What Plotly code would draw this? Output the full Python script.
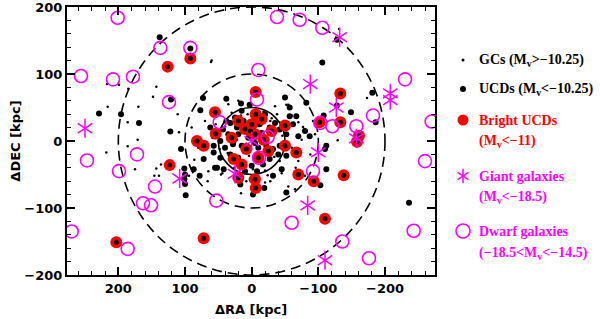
import plotly.graph_objects as go

# ---------------- data (kpc) ----------------
# Dwarf galaxies (-18.5 < Mv < -14.5)
dw_x = [201, 256, 208, 178, 137, 124, 92, 247, 199, 172, 145, 163, 151, 270, 186,
        -38, -72, -106, -10, -8, 48, -24, -11, 53, -60, -103, -121, -157, -182,
        -230, -270, -260, -92, -243, -136, -176]
dw_y = [184, 97, 92, 96, 139, 58, 139, -29, -45, -20, -68, -93, -96, -135, -161,
        185, 181, 169, 106, 62, 28, 6, -25, -89, -122, 27, 22, 22, 38,
        92, 29, -30, -45, -134, -150, -175]

# Giant galaxies (Mv < -18.5)
gi_x = [0, 250, 108, 25, -132, -88, -127, -208, -208, -157, -100, -84, -110]
gi_y = [0, 19, -56, -49, 155, 85, 50, 71, 61, 4, -17, -96, -178]

# Bright UCDs (Mv < -11)
bu_x = [126, 92, 123, 203, 82, 72, -6, 55, -6, -15, -50, 54, -18, -50, -67, 27, 15,
        20, -5, -6, -70, -93, -102, -133, -133, -161, -158, -138, -110, 72,
        0, 10, -30, -5, 8, -25, -10, 30, 20, 2]
bu_y = [111, 123, -36, -151, 0, -7, 73, 43, 40, 33, 23, 11, 2, -7, -17, -27, -35,
        -55, -57, -70, -50, -60, 28, 71, 28, 8, -1, -51, -116, -145,
        25, 18, 15, 10, -12, -15, -25, 5, 30, 15]

# UCDs (Mv < -10.25)
ucd_x = [138, 92, 229, 196, 169, 122, 121, 106, 101, 87, 100, 101, 100, 99, 73, 38,
         -50, 3, 77, -106, -181, -149, -108, -186, -110, -103, -236, -128, -128,
         -52, 78, -2, -19, 17, -32, -45, 55, 42, 10, 0, 72, 62, 57, -82, -112,
         -112, -57, 16,
         15, 32, 22, 43, 35, 20, 10, -12, -27, -35, -42, -52, -62, -70, -80, -87,
         -67, -57, 47, 57, 40, 27, 15, 7, -10, -22, -32, -42, -40, -52, -27, -17,
         0, 20, 32, 47, 57, 52, 5, -5, 12, -20, 25, -2, -8, 28, -15, 38]
ucd_y = [155, 138, 41, 40, 27, 14, 62, -12, -41, -42, -50, -57, -64, -81, 64, 63,
         65, 54, 46, 117, 72, 43, 38, 28, -12, -66, -92, 151, 53,
         -77, -52, -80, -70, -65, -52, -42, -40, -42, -45, -57, -27, 20, 7, 57, -42,
         -7, 50, 56,
         45, 27, 20, 17, 10, 10, 15, 25, 20, 27, 17, 10, 25, 7, 15, 7,
         37, 37, 0, -7, -10, 0, -7, -15, -10, -7, -12, -7, -20, -22, -27, -35,
         -37, -25, -20, -25, -17, -40, 5, -3, 30, 40, 35, 22, -45, -5, 12, 30]

# GCs (Mv > -10.25)
gc_x = [217, 199, 143, 148, 216, 170, 186, 111, 109, 61, 218, 186, 175, 143, 146,
        136, 139, 171, 185, 60, -173, -129, -131, 66, 46, 16, -20, -45, -24, -55,
        -65, -80, 86, 94, -52, -55, -60, -70, -77, -79, 16,
        30, 18, 6, -8, -18, -28, 40, 25, 12, -4, -14, -30, -38, 34, 22, 8, -6,
        -22, -46, 48, 36, 4, -12, -34, -48, 26, 14, -2, -20, 44, -60, -70, -88,
        -95, 70, 80, 65, -75, -92, 90, 35, -35, -66, 8, -8, 54, -42, 20, -28]
gc_y = [85, 84, 81, 66, 51, 51, 28, 40, 13, 118, -17, -8, -42, -41, -52,
        -35, -52, 2, 78, 120, 64, 1, 167, -60, -50, -78, -62, -48, -51, -68,
        -72, -52, -28, -52, 54, 54, 38, 28, 21, 18, 38,
        42, 36, 40, 34, 44, 30, 22, 26, 24, 20, 28, 34, 40, 6, 2, -4, -2,
        4, 8, -12, -18, -22, -20, -24, -4, -40, -32, -42, -44, -48, -10, -30, -20,
        10, 30, -10, -45, 2, 30, 20, 55, 52, -40, -60, -62, 25, -30, 60, -60]

tick_vals = [-200, -100, 0, 100, 200]
tick_text = ["\u2212200", "\u2212100", "0", "100", "200"]
circle_radii = [50, 100, 200]
circle_dash = ["solid", "10px,6px", "10px,6px"]

leg_labels = ["GCs (M<sub>v</sub>&gt;\u221210.25)",
              "UCDs (M<sub>v</sub>&lt;\u221210.25)",
              "Bright UCDs", "(M<sub>v</sub>&lt;\u221211)",
              "Giant galaxies", "(M<sub>v</sub>&lt;\u221218.5)",
              "Dwarf galaxies", "(\u221218.5&lt;M<sub>v</sub>&lt;\u221214.5)"]
leg_label_y = [60, 89, 120, 141, 176, 197, 231, 253]
leg_label_col = ["black", "black", "red", "red", "#ff00ff", "#ff00ff", "#ff00ff", "#ff00ff"]

MAG = "#ff00ff"
FONT = "DejaVu Sans"
SERIF = "Liberation Serif"

fig = go.Figure()

fig.add_trace(go.Scatter(x=gc_x, y=gc_y, mode="markers",
                         marker=dict(size=2.5, color="black"), hoverinfo="skip"))
fig.add_trace(go.Scatter(x=ucd_x, y=ucd_y, mode="markers",
                         marker=dict(size=6, color="black"), hoverinfo="skip"))
fig.add_trace(go.Scatter(x=bu_x, y=bu_y, mode="markers",
                         marker=dict(size=12, color="red"), hoverinfo="skip"))
fig.add_trace(go.Scatter(x=bu_x, y=bu_y, mode="markers",
                         marker=dict(size=5, color="black"), hoverinfo="skip"))
fig.add_trace(go.Scatter(x=dw_x, y=dw_y, mode="markers",
                         marker=dict(size=13, symbol="circle-open", color=MAG,
                                     line=dict(width=1.6, color=MAG)), hoverinfo="skip"))
for sym in ["y-up-open", "y-down-open"]:
    fig.add_trace(go.Scatter(x=gi_x, y=gi_y, mode="markers",
                             marker=dict(size=12, symbol=sym, color=MAG,
                                         line=dict(width=1.5, color=MAG)), hoverinfo="skip"))

for r, d in zip(circle_radii, circle_dash):
    fig.add_shape(type="circle", xref="x", yref="y", x0=-r, x1=r, y0=-r, y1=r,
                  line=dict(color="black", width=1.6, dash=d), layer="below")

# ---- legend (drawn on a helper axis scaled in window pixels) ----
leg_sym_x = [463, 463, 463, 463, 463, 463]
leg_sym_y = [60, 89, 120, 176, 176, 231]
fig.add_trace(go.Scatter(x=leg_sym_x[:1], y=leg_sym_y[:1], xaxis="x2", yaxis="y2", mode="markers",
                         marker=dict(size=3, color="black"), hoverinfo="skip"))
fig.add_trace(go.Scatter(x=leg_sym_x[1:2], y=leg_sym_y[1:2], xaxis="x2", yaxis="y2", mode="markers",
                         marker=dict(size=6, color="black"), hoverinfo="skip"))
fig.add_trace(go.Scatter(x=leg_sym_x[2:3], y=leg_sym_y[2:3], xaxis="x2", yaxis="y2", mode="markers",
                         marker=dict(size=11, color="red"), hoverinfo="skip"))
for sym in ["y-up-open", "y-down-open"]:
    fig.add_trace(go.Scatter(x=leg_sym_x[3:4], y=leg_sym_y[3:4], xaxis="x2", yaxis="y2", mode="markers",
                             marker=dict(size=9, symbol=sym, color=MAG,
                                         line=dict(width=1.5, color=MAG)), hoverinfo="skip"))
fig.add_trace(go.Scatter(x=leg_sym_x[5:], y=leg_sym_y[5:], xaxis="x2", yaxis="y2", mode="markers",
                         marker=dict(size=14, symbol="circle-open", color=MAG,
                                     line=dict(width=1.6, color=MAG)), hoverinfo="skip"))

for txt, yy, col in zip(leg_labels, leg_label_y, leg_label_col):
    fig.add_annotation(x=477, y=yy, xref="x2", yref="y2", text=txt, showarrow=False,
                       xanchor="left", yanchor="middle",
                       font=dict(family=SERIF, size=14, color=col, weight="bold"))

L, T, B = 67, 7, 44
FIG_W, FIG_H = 600, 319
W_PAPER = FIG_W - L
main_frac = (435 - L) / W_PAPER

axis_common = dict(showgrid=False, zeroline=False, showline=True, linecolor="black",
                   linewidth=2, mirror="allticks", ticks="inside", ticklen=8,
                   tickwidth=1.5, tickcolor="black", automargin=False,
                   ticklabeloverflow="allow",
                   tickfont=dict(family=FONT, size=13, color="black", weight="bold"),
                   minor=dict(ticks="inside", ticklen=4, dtick=20, tickwidth=1.2,
                              tickcolor="black", showgrid=False))

fig.update_layout(
    width=FIG_W, height=FIG_H,
    margin=dict(l=L, r=0, t=T, b=B),
    paper_bgcolor="white", plot_bgcolor="white",
    showlegend=False,
    xaxis=dict(range=[277, -275], domain=[0, main_frac], tickvals=tick_vals,
               ticktext=tick_text,
               title=dict(text="\u0394RA [kpc]", standoff=10,
                          font=dict(family=FONT, size=13, color="black", weight="bold")),
               **axis_common),
    yaxis=dict(range=[-200, 200], domain=[0, 1], tickvals=tick_vals, ticktext=tick_text,
               title=dict(text="\u0394DEC [kpc]", standoff=1,
                          font=dict(family=FONT, size=13, color="black", weight="bold")),
               **axis_common),
    xaxis2=dict(domain=[(440 - L) / W_PAPER, 1], range=[440, 600], visible=False,
                anchor="y2", fixedrange=True),
    yaxis2=dict(domain=[0, 1], range=[275, 7], visible=False, anchor="x2", fixedrange=True),
)

# remove the browser's default 8 px body margin so the figure sits at the window origin
fig.write_html("out.html", config={"displayModeBar": False},
               post_script="document.body.style.margin='0';document.body.style.overflow='hidden';")
